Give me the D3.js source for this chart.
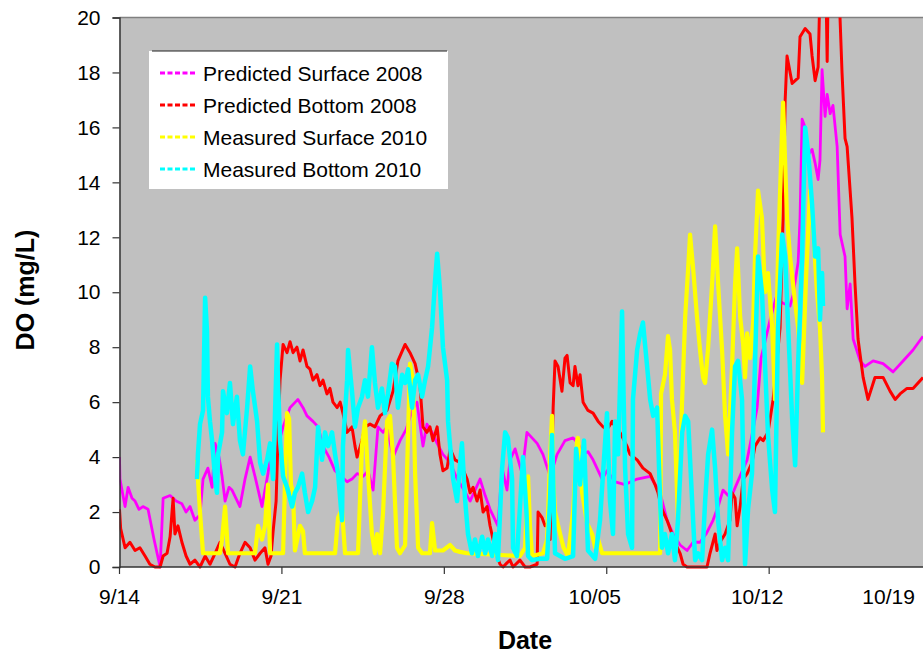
<!DOCTYPE html>
<html><head><meta charset="utf-8">
<script src="https://cdn.jsdelivr.net/npm/d3@7"></script>
<style>body{margin:0;background:#fff}svg{display:block}text{font-family:"Liberation Sans",Arial,sans-serif}</style>
</head><body><svg id="c" width="923" height="655"></svg>
<script>
// ---- DATA (day offset from 9/14/2010 00:00, DO mg/L) ----
const seriesNames = ["Predicted Surface 2008","Predicted Bottom 2008","Measured Surface 2010","Measured Bottom 2010"];
const seriesColors = ["#ff00ff","#ff0000","#ffff00","#00ffff"];
const tickLabels = ["9/14","9/21","9/28","10/05","10/12","10/19"];
const tickDays = [0,7,14,21,28,35];
const yTicks = [0,2,4,6,8,10,12,14,16,18,20];

const predSurface = [[0,4.0],[0.02,3.2],[0.15,2.6],[0.24,2.2],[0.37,2.9],[0.54,2.5],[0.67,2.4],[0.84,2.1],[1.01,2.2],[1.23,2.1],[1.49,1.0],[1.75,0.0],[1.88,2.5],[2.18,2.6],[2.44,2.4],[2.69,2.3],[2.87,2.0],[3.04,2.2],[3.25,1.7],[3.47,1.9],[3.60,3.2],[3.81,3.6],[3.99,2.9],[4.12,4.5],[4.29,4.0],[4.42,3.3],[4.55,2.4],[4.72,2.9],[4.85,2.8],[5.02,2.5],[5.19,2.2],[5.41,3.2],[5.63,4.0],[5.84,3.3],[6.14,2.2],[6.40,3.4],[6.57,4.5],[6.79,4.3],[7.05,5.1],[7.35,5.8],[7.69,6.1],[7.91,5.8],[8.08,5.5],[8.34,5.3],[8.56,5.1],[8.77,4.4],[9.03,4.0],[9.29,3.5],[9.55,3.3],[9.81,3.1],[10.02,3.2],[10.24,3.4],[10.50,3.3],[10.71,3.5],[10.93,2.8],[11.14,5.1],[11.36,4.9],[11.53,5.1],[11.79,4.0],[12.09,4.6],[12.35,5.0],[12.61,5.7],[12.82,6.0],[13.08,4.4],[13.25,5.2],[13.47,4.9],[13.69,4.5],[13.94,4.1],[14.25,3.8],[14.55,3.2],[14.85,2.8],[15.11,2.4],[15.54,3.2],[15.76,2.6],[15.97,2.1],[16.31,1.5],[16.49,3.6],[16.70,2.8],[16.83,3.9],[17.05,4.3],[17.35,3.4],[17.56,4.9],[17.78,4.7],[18.00,4.5],[18.25,4.1],[18.56,3.3],[18.86,4.1],[19.20,4.6],[19.55,4.7],[19.76,4.5],[19.98,4.1],[20.19,4.2],[20.41,3.9],[20.80,3.2],[21.01,3.5],[21.36,3.1],[21.79,3.0],[22.31,3.2],[22.87,3.3],[23.09,3.0],[23.30,2.7],[23.60,1.7],[23.86,1.2],[24.16,0.8],[24.46,0.6],[24.72,0.9],[25.02,0.9],[25.28,1.2],[25.58,1.7],[25.80,2.2],[26.01,2.8],[26.23,2.6],[26.44,2.7],[26.74,3.3],[27.05,3.9],[27.26,4.8],[27.48,5.8],[27.65,7.6],[27.82,8.2],[28.04,9.0],[28.30,9.8],[28.60,9.6],[28.90,9.5],[29.03,9.9],[29.25,11.1],[29.33,12.7],[29.42,16.3],[29.55,16.0],[29.68,15.0],[29.85,15.2],[29.98,14.7],[30.11,14.1],[30.19,14.8],[30.28,18.1],[30.41,16.4],[30.50,17.2],[30.63,16.5],[30.75,16.8],[30.93,15.3],[31.06,12.1],[31.27,11.3],[31.36,9.4],[31.49,10.3],[31.62,8.3],[31.92,7.5],[32.13,7.3],[32.48,7.5],[32.91,7.4],[33.34,7.1],[33.77,7.5],[34.20,7.9],[34.63,8.4]];

const predBottom = [[0,2.1],[0.05,1.4],[0.24,0.7],[0.45,0.9],[0.67,0.6],[0.88,0.7],[1.10,0.4],[1.31,0.1],[1.53,0.0],[1.75,0.0],[1.88,0.4],[2.05,0.5],[2.18,1.1],[2.31,2.5],[2.39,1.2],[2.52,1.5],[2.69,0.9],[2.87,0.4],[3.04,0.1],[3.25,0.25],[3.47,0.0],[3.69,0.4],[3.90,0.1],[4.12,0.5],[4.33,0.9],[4.55,0.5],[4.76,0.1],[4.98,0.0],[5.19,0.5],[5.41,0.9],[5.63,0.7],[5.84,0.25],[6.06,0.5],[6.27,0.7],[6.40,0.1],[6.53,0.4],[6.62,1.3],[6.75,2.4],[6.83,4.7],[6.92,6.8],[7.05,8.1],[7.22,7.8],[7.35,8.2],[7.48,7.8],[7.65,8.0],[7.78,7.5],[7.91,7.9],[8.08,7.3],[8.21,7.2],[8.34,6.8],[8.51,7.0],[8.64,6.6],[8.77,6.8],[8.94,6.3],[9.07,6.5],[9.20,6.0],[9.38,5.8],[9.51,6.0],[9.63,5.6],[9.81,4.9],[10.02,5.1],[10.15,4.4],[10.24,4.0],[10.45,4.6],[10.58,5.1],[10.80,5.2],[11.01,5.1],[11.23,5.5],[11.53,5.7],[11.79,6.4],[12.00,7.5],[12.31,8.1],[12.52,7.8],[12.74,7.4],[12.95,6.6],[13.08,5.1],[13.25,4.9],[13.38,5.1],[13.51,4.6],[13.69,5.1],[13.81,4.1],[13.94,3.5],[14.12,3.6],[14.25,4.3],[14.46,3.9],[14.68,3.8],[14.98,3.2],[15.11,2.7],[15.24,2.9],[15.41,2.4],[15.54,2.8],[15.67,2.0],[15.84,2.2],[15.97,1.5],[16.10,1.0],[16.27,0.4],[16.40,0.1],[16.53,0.0],[16.70,0.15],[16.83,0.25],[16.96,0.0],[17.26,0.25],[17.48,0.0],[17.69,0.0],[18.00,0.1],[18.04,2.0],[18.21,1.8],[18.34,1.5],[18.47,1.6],[18.56,1.0],[18.69,5.8],[18.77,7.5],[18.90,7.3],[19.07,6.4],[19.20,7.6],[19.29,7.7],[19.42,6.7],[19.55,6.6],[19.63,7.3],[19.76,6.6],[19.85,7.0],[19.98,6.0],[20.19,5.7],[20.41,5.6],[20.63,5.3],[20.84,5.1],[21.01,5.0],[21.23,5.3],[21.36,5.1],[21.57,4.9],[21.87,4.4],[22.00,4.1],[22.31,3.9],[22.56,3.6],[22.87,3.4],[23.08,3.0],[23.21,2.7],[23.38,2.1],[23.60,1.7],[23.81,1.2],[23.94,0.9],[24.16,0.5],[24.29,0.1],[24.46,0.0],[25.32,0.0],[25.45,0.5],[25.67,1.2],[25.75,0.6],[25.88,0.9],[26.10,1.2],[26.31,1.7],[26.40,2.7],[26.53,2.5],[26.62,1.5],[26.75,2.2],[26.88,3.2],[27.05,3.4],[27.26,3.8],[27.39,4.4],[27.61,4.7],[27.74,4.6],[27.95,4.9],[28.17,6.1],[28.47,8.7],[28.60,12.7],[28.69,17.0],[28.77,18.6],[28.99,17.6],[29.25,17.8],[29.33,19.3],[29.55,19.6],[29.76,19.4],[29.85,18.6],[29.98,17.7],[30.11,18.2],[30.19,21.0],[30.45,21.0],[30.50,18.4],[30.54,21.0],[31.01,21.0],[31.14,18.0],[31.27,15.6],[31.36,15.3],[31.57,12.7],[31.70,10.3],[31.83,8.3],[32.05,6.9],[32.26,6.1],[32.56,6.9],[32.91,6.9],[33.21,6.4],[33.43,6.1],[33.64,6.3],[33.94,6.5],[34.20,6.5],[34.63,6.9]];

const measSurface = [[3.34,3.9],[3.38,3.2],[3.47,2.0],[3.60,0.5],[4.12,0.5],[4.33,0.5],[4.42,1.0],[4.55,2.2],[4.68,0.5],[5.84,0.5],[5.97,1.5],[6.14,1.0],[6.27,1.5],[6.40,3.0],[6.49,0.5],[7.05,0.5],[7.13,3.0],[7.22,5.6],[7.31,5.4],[7.39,3.0],[7.48,2.7],[7.56,0.6],[7.78,1.5],[7.91,1.3],[7.99,0.5],[9.29,0.5],[9.42,1.8],[9.59,2.1],[9.72,0.5],[10.28,0.5],[10.45,4.4],[10.58,5.3],[10.71,3.4],[10.88,1.2],[11.01,0.5],[11.10,1.2],[11.23,0.5],[11.36,2.0],[11.53,5.3],[11.66,5.5],[11.79,4.0],[11.96,0.7],[12.09,0.5],[12.31,0.8],[12.39,3.4],[12.52,7.4],[12.65,6.8],[12.74,3.4],[12.87,0.7],[13.04,0.5],[13.38,0.5],[13.47,1.6],[13.60,0.6],[13.94,0.6],[14.25,0.8],[14.46,0.6],[14.68,0.55],[14.98,0.5],[17.26,0.4],[17.48,0.7],[17.61,3.3],[17.69,1.5],[17.78,0.4],[18.25,0.5],[18.43,1.0],[18.56,4.0],[18.64,5.5],[18.69,3.2],[18.77,2.0],[18.99,1.2],[19.14,0.7],[19.33,0.4],[19.55,2.0],[19.72,4.6],[19.76,4.7],[19.94,2.7],[20.15,1.6],[20.37,1.2],[20.50,0.7],[20.63,1.0],[20.80,0.5],[23.30,0.5],[23.34,6.3],[23.51,7.0],[23.64,8.4],[23.73,7.9],[23.81,6.1],[23.94,4.9],[24.07,1.7],[24.25,6.1],[24.38,9.1],[24.51,10.9],[24.59,12.1],[24.72,10.9],[24.89,9.1],[25.02,7.9],[25.15,6.9],[25.24,6.7],[25.37,8.0],[25.54,10.3],[25.67,12.4],[25.80,10.3],[25.97,7.9],[26.10,5.5],[26.23,4.1],[26.40,7.3],[26.53,10.3],[26.62,11.6],[26.75,9.1],[26.88,8.1],[26.96,6.9],[27.05,8.5],[27.18,7.6],[27.31,8.9],[27.39,11.3],[27.52,13.7],[27.69,12.7],[27.82,10.0],[27.95,10.7],[28.13,8.7],[28.25,6.1],[28.38,11.3],[28.56,16.0],[28.60,16.9],[28.77,12.7],[28.90,11.3],[29.12,9.6],[29.25,8.7],[29.42,6.7],[29.59,10.5],[29.76,13.7],[29.89,12.4],[30.06,10.0],[30.19,8.7],[30.28,6.9],[30.32,4.9]];

const measBottom = [[3.34,3.2],[3.38,4.1],[3.47,5.2],[3.60,5.7],[3.69,9.8],[3.77,8.6],[3.81,6.2],[3.90,5.3],[3.99,4.6],[4.12,3.2],[4.20,2.7],[4.25,4.1],[4.42,4.9],[4.46,6.4],[4.63,5.6],[4.76,6.7],[4.89,5.2],[5.06,6.2],[5.19,4.6],[5.32,4.1],[5.50,5.8],[5.63,7.3],[5.75,6.4],[5.93,5.3],[6.06,3.8],[6.19,3.4],[6.36,3.9],[6.49,4.5],[6.62,3.2],[6.79,8.1],[6.83,6.8],[6.92,4.6],[7.05,3.3],[7.22,2.9],[7.44,2.2],[7.56,2.7],[7.69,2.9],[7.87,3.4],[7.99,2.7],[8.13,2.0],[8.30,2.4],[8.43,2.9],[8.56,5.1],[8.73,3.9],[8.86,4.9],[8.99,4.4],[9.16,4.9],[9.29,4.1],[9.42,3.4],[9.59,1.7],[9.63,4.4],[9.81,6.8],[9.85,7.9],[10.02,6.4],[10.15,5.1],[10.28,5.8],[10.45,6.2],[10.58,6.8],[10.71,6.2],[10.88,8.0],[11.01,6.7],[11.14,5.8],[11.31,6.5],[11.44,5.6],[11.57,6.3],[11.74,7.4],[11.87,7.3],[12.00,5.8],[12.18,7.0],[12.31,6.7],[12.44,7.2],[12.61,5.8],[12.74,6.8],[12.87,7.0],[13.04,6.2],[13.17,6.8],[13.30,7.3],[13.47,8.7],[13.60,10.4],[13.69,11.4],[13.81,10.1],[13.94,8.0],[14.12,6.8],[14.16,5.3],[14.25,4.4],[14.38,3.2],[14.55,2.4],[14.68,3.8],[14.76,4.5],[14.89,2.5],[15.02,1.2],[15.19,0.5],[15.32,1.0],[15.45,0.4],[15.63,1.1],[15.76,0.5],[15.88,1.0],[16.06,0.4],[16.19,1.2],[16.31,0.25],[16.49,3.6],[16.62,4.9],[16.74,4.7],[16.92,3.2],[16.96,0.7],[17.13,0.4],[17.26,2.2],[17.39,4.0],[17.54,2.0],[17.61,0.4],[17.78,0.25],[18.13,0.3],[18.43,0.3],[18.56,2.5],[18.64,4.8],[18.77,0.5],[19.20,0.3],[19.55,0.4],[19.68,4.3],[19.85,3.0],[20.02,4.6],[20.19,0.6],[20.50,0.3],[20.71,1.7],[20.84,3.4],[21.01,5.6],[21.14,2.4],[21.27,1.2],[21.36,5.3],[21.49,4.1],[21.66,9.3],[21.70,7.3],[21.79,3.6],[21.92,1.2],[22.09,0.7],[22.13,6.1],[22.31,7.9],[22.44,8.5],[22.56,8.9],[22.74,7.3],[22.87,6.1],[23.00,5.5],[23.17,5.8],[23.30,2.4],[23.38,0.7],[23.51,1.2],[23.64,0.5],[23.81,1.2],[23.94,0.25],[24.07,1.7],[24.25,4.9],[24.38,5.5],[24.51,5.3],[24.68,2.4],[24.81,0.25],[24.94,0.5],[25.11,0.25],[25.24,2.4],[25.37,4.1],[25.54,5.0],[25.67,3.6],[25.80,1.7],[25.97,0.25],[26.10,0.7],[26.23,0.25],[26.40,4.9],[26.53,7.3],[26.66,7.5],[26.83,6.1],[26.96,0.1],[27.09,2.1],[27.26,3.4],[27.39,7.4],[27.52,11.3],[27.69,10.0],[27.82,7.4],[27.95,4.8],[28.13,2.8],[28.25,2.0],[28.38,8.7],[28.56,12.1],[28.69,11.3],[28.82,8.7],[28.99,5.4],[29.12,3.7],[29.25,7.4],[29.42,11.3],[29.55,16.0],[29.68,15.1],[29.85,13.2],[29.98,11.3],[30.11,11.6],[30.19,9.0],[30.28,10.7],[30.32,9.5]];

const allSeries = [predSurface, predBottom, measSurface, measBottom];

// ---- CHART ----
const svg = d3.select("#c");
const base = new Date(2010, 8, 14);
const toDate = d => new Date(base.getTime() + d * 864e5);
const L = 119.5, R = 923, T = 17.5, B = 567;
const x = d3.scaleTime().domain([base, toDate(34.63)]).range([L, R]);
const y = d3.scaleLinear().domain([0, 20]).range([B, T]);

svg.append("rect").attr("x",0).attr("y",0).attr("width",923).attr("height",655).attr("fill","#fff");
svg.append("rect").attr("x",L).attr("y",T).attr("width",R-L).attr("height",B-T).attr("fill","#c0c0c0");
svg.append("line").attr("x1",L).attr("x2",R).attr("y1",T).attr("y2",T).attr("stroke","#808080").attr("stroke-width",1.5);

svg.append("defs").append("clipPath").attr("id","clip").append("rect")
  .attr("x",L).attr("y",T).attr("width",R-L).attr("height",B-T+2);

const line = d3.line().x(d => x(toDate(d[0]))).y(d => y(d[1]));
const widths = [2.8, 3, 4.2, 4.5];
const g = svg.append("g").attr("clip-path","url(#clip)");
allSeries.forEach((s,i) => {
  g.append("path").datum(s).attr("d", line).attr("fill","none")
   .attr("stroke", seriesColors[i]).attr("stroke-width", widths[i])
   .attr("stroke-linejoin","round");
});

// Y axis
const yAxis = svg.append("g").attr("transform",`translate(${L},0)`)
  .call(d3.axisLeft(y).tickValues(yTicks).tickSize(7).tickPadding(12));
yAxis.select(".domain").attr("stroke","#333").attr("stroke-width",1.5);
yAxis.selectAll(".tick line").attr("stroke","#333").attr("stroke-width",1.2);
yAxis.selectAll("text").attr("font-size",21).attr("fill","#000").attr("font-family","Liberation Sans, Arial, sans-serif");

// X axis
const xa = svg.append("g");
xa.append("line").attr("x1",L).attr("x2",R).attr("y1",B).attr("y2",B).attr("stroke","#333").attr("stroke-width",1.5);
const nudge = [0,0,0,-12,-12,-43];
tickDays.forEach((d,i) => {
  const px = x(toDate(d));
  if (px <= R) xa.append("line").attr("x1",px).attr("x2",px).attr("y1",B).attr("y2",B+7).attr("stroke","#333").attr("stroke-width",1.2);
  xa.append("text").attr("x",px+nudge[i]).attr("y",604).attr("text-anchor","middle")
    .attr("font-size",21).text(tickLabels[i]);
});

// Titles
svg.append("text").attr("x",525).attr("y",649).attr("text-anchor","middle")
  .attr("font-size",25).attr("font-weight","bold").text("Date");
svg.append("text").attr("transform","translate(34,290) rotate(-90)").attr("text-anchor","middle")
  .attr("font-size",25).attr("font-weight","bold").text("DO (mg/L)");

// Legend
const lg = svg.append("g");
lg.append("rect").attr("x",149).attr("y",51).attr("width",299).attr("height",138).attr("fill","#fff");
lg.append("line").attr("x1",152).attr("x2",447).attr("y1",51).attr("y2",51).attr("stroke","#222").attr("stroke-width",1);
seriesNames.forEach((n,i) => {
  const cy = 73 + i*32;
  lg.append("line").attr("x1",160).attr("x2",197).attr("y1",cy).attr("y2",cy)
    .attr("stroke",seriesColors[i]).attr("stroke-width",3).attr("stroke-dasharray","5,2.5");
  lg.append("text").attr("x",203).attr("y",cy+7.5).attr("font-size",21).text(n);
});
</script></body></html>
